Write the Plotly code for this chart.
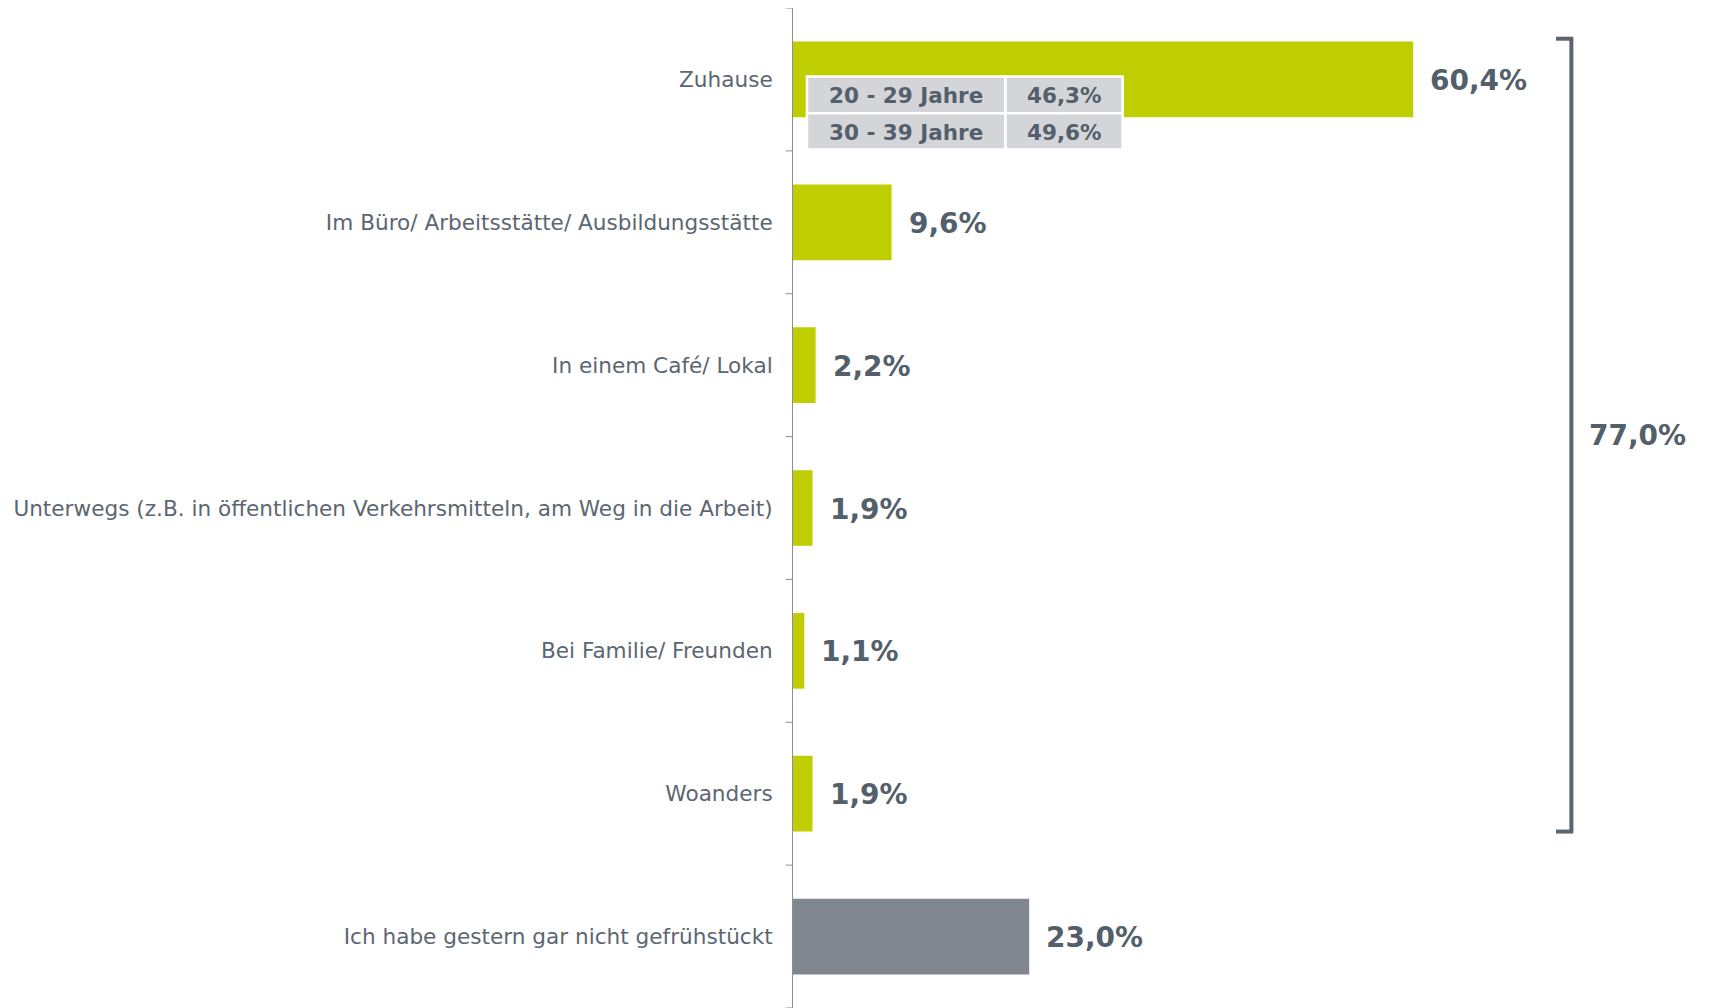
import plotly.graph_objects as go

categories = [
    "Zuhause",
    "Im Büro/ Arbeitsstätte/ Ausbildungsstätte",
    "In einem Café/ Lokal",
    "Unterwegs (z.B. in öffentlichen Verkehrsmitteln, am Weg in die Arbeit)",
    "Bei Familie/ Freunden",
    "Woanders",
    "Ich habe gestern gar nicht gefrühstückt",
]
values = [60.4, 9.6, 2.2, 1.9, 1.1, 1.9, 23.0]
value_labels = ["60,4%", "9,6%", "2,2%", "1,9%", "1,1%", "1,9%", "23,0%"]
bar_colors = ["#BFCE00"] * 6 + ["#80878F"]

bracket_label = "77,0%"
bracket_span = (0, 5)  # indices of first and last bracketed category

age_groups = ["20 - 29 Jahre", "30 - 39 Jahre"]
age_values = ["46,3%", "49,6%"]

TEXT = "#535F6B"
LABEL = "#5C6671"
FONT = "DejaVu Sans"

BARW = 0.53
fig = go.Figure()
fig.add_trace(go.Bar(
    y=list(range(len(categories))), x=values, orientation="h",
    marker=dict(color=bar_colors, line=dict(width=0)),
    width=BARW, hoverinfo="skip",
))

annotations = []
for i, (v, t) in enumerate(zip(values, value_labels)):
    annotations.append(dict(x=v, y=i, xref="x", yref="y", text=f"<b>{t}</b>",
                            showarrow=False, xanchor="left", yanchor="middle",
                            xshift=15, yshift=-1,
                            font=dict(family=FONT, size=28, color=TEXT)))

shapes = []
# bracket
bx = 75.8
btop = bracket_span[0] - BARW / 2 - 0.02
bbot = bracket_span[1] + BARW / 2
bcol = "#5A6570"
shapes.append(dict(type="line", xref="x", yref="y", x0=bx, x1=bx, y0=btop, y1=bbot,
                   line=dict(color=bcol, width=4)))
shapes.append(dict(type="line", xref="x", yref="y", x0=74.3, x1=bx + 0.18, y0=btop, y1=btop,
                   line=dict(color=bcol, width=4)))
shapes.append(dict(type="line", xref="x", yref="y", x0=74.3, x1=bx + 0.18, y0=bbot, y1=bbot,
                   line=dict(color=bcol, width=4)))
annotations.append(dict(x=bx, y=(btop + bbot) / 2, xref="x", yref="y",
                        text=f"<b>{bracket_label}</b>", showarrow=False,
                        xanchor="left", yanchor="middle", xshift=16,
                        font=dict(family=FONT, size=28, color=TEXT)))

# small table inside the Zuhause bar
col_x = [1.36, 20.7, 32.1]
row_y = [-0.02, 0.237, 0.49]
for r, (g, v) in enumerate(zip(age_groups, age_values)):
    for c, txt in enumerate([g, v]):
        shapes.append(dict(type="rect", xref="x", yref="y",
                           x0=col_x[c], x1=col_x[c + 1], y0=row_y[r], y1=row_y[r + 1],
                           fillcolor="#D3D5D9", line=dict(color="white", width=2.5)))
        annotations.append(dict(x=(col_x[c] + col_x[c + 1]) / 2,
                                y=(row_y[r] + row_y[r + 1]) / 2, xref="x", yref="y",
                                text=f"<b>{txt}</b>", showarrow=False,
                                xanchor="center", yanchor="middle", yshift=-1,
                                font=dict(family=FONT, size=21.5, color=TEXT)))

fig.update_layout(
    width=1702, height=1000,
    margin=dict(l=785, r=0, t=0, b=0),
    plot_bgcolor="white", paper_bgcolor="white",
    showlegend=False,
    annotations=annotations, shapes=shapes,
    xaxis=dict(range=[0, 89.3], showgrid=False, zeroline=False, showticklabels=False,
               ticks="", showline=False, fixedrange=True),
    yaxis=dict(range=[6.5, -0.5], tickmode="array",
               tickvals=list(range(len(categories))), ticktext=categories,
               showgrid=False, zeroline=False,
               showline=True, linecolor="#8A8F96", linewidth=1,
               ticks="", ticklabelstandoff=15,
               tickfont=dict(family=FONT, size=21.6, color=LABEL)),
)

# tick marks at category boundaries
for k in range(len(categories) + 1):
    shapes.append(dict(type="line", xref="paper", yref="y", x0=-0.008, x1=0,
                       y0=k - 0.5, y1=k - 0.5, line=dict(color="#8A8F96", width=1)))
fig.update_layout(shapes=shapes)

fig.write_html("out.html")
